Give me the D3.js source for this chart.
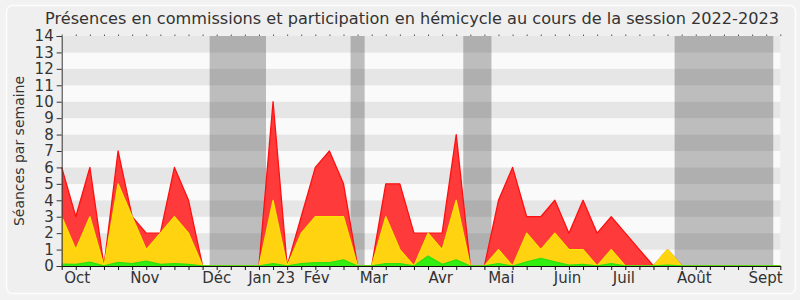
<!DOCTYPE html>
<html>
<head>
<meta charset="utf-8">
<script src="https://cdn.jsdelivr.net/npm/d3@7"></script>
<style>
    body { margin: 0; background: #f2f2f2; }
    svg { display: block; font-family: 'DejaVu Sans', Verdana, sans-serif; }
</style>
</head>
<body>
<div id="chart"></div>
<script>
// Semaines de la session (index 0 = dernière semaine de septembre 2022)
const WEEKS = d3.range(52);

// Valeurs cumulées (séances par semaine)
const HEMICYCLE = [6, 3, 6, 0, 7, 3, 2, 2, 6, 4, 0, 0, 0, 0, 0, 10, 0, 3, 6, 7, 5, 0, 0, 5, 5, 2,
    2, 2, 8, 0, 0, 4, 6, 3, 3, 4, 2, 4, 2, 3, 2, 1, 0, 1, 0, 0, 0, 0, 0, 0, 0, 0];
const COMMISSIONS = [3, 1, 3, 0, 5, 3, 1, 2, 3, 2, 0, 0, 0, 0, 0, 4, 0, 2, 3, 3, 3, 0, 0, 3, 1, 0,
    2, 1, 4, 0, 0, 1, 0, 2, 1, 2, 1, 1, 0, 1, 0, 0, 0, 1, 0, 0, 0, 0, 0, 0, 0, 0];
const INTERVENTIONS = [0.12, 0.1, 0.24, 0, 0.22, 0.15, 0.3, 0.1, 0.15, 0.1, 0, 0, 0, 0, 0, 0.15, 0,
    0.15, 0.2, 0.2, 0.37, 0, 0, 0.15, 0.15, 0, 0.6, 0.1, 0.37, 0, 0, 0.15, 0, 0.25, 0.47, 0.25, 0.05,
    0.1, 0, 0.15, 0, 0, 0, 0.05, 0, 0, 0, 0, 0, 0, 0, 0];

// Libellés des mois et semaine où ils sont centrés
const MONTH_LABELS = ['Oct', 'Nov', 'Déc', 'Jan 23', 'Fév', 'Mar', 'Avr', 'Mai', 'Juin', 'Juil', 'Août', 'Sept'];
const MONTH_WEEKS = [1.1, 5.9, 11, 14.9, 18.1, 22.15, 26.9, 31.2, 35.9, 39.9, 44.9, 49.95];

// Vacances parlementaires (en semaines)
const VACATION_STARTS = [10.5, 20.5, 28.5, 43.5];
const VACATION_ENDS = [14.5, 21.5, 30.5, 50.5];

const Y_TICKS = d3.range(0, 15);

const width = 800;
const height = 300;
const margin = { top: 36, right: 20, bottom: 34, left: 62 };

const svg = d3.select('#chart').append('svg')
    .attr('width', width)
    .attr('height', height);

svg.append('rect')
    .attr('x', 6.5).attr('y', 5.5)
    .attr('width', 789).attr('height', 288)
    .attr('rx', 6)
    .attr('fill', '#efefef')
    .attr('stroke', '#fdfdfd')
    .attr('stroke-width', 1.5);

const xScale = d3.scaleLinear()
    .domain([0, 51])
    .range([margin.left - 0.3, width - margin.right + 0.3]);

const yScale = d3.scaleLinear()
    .domain([0, 14])
    .range([height - margin.bottom, margin.top]);

const plot = svg.append('g');

// bandes horizontales
plot.selectAll('.stripe')
    .data(d3.range(0, 14))
    .enter()
    .append('rect')
    .attr('x', xScale(0))
    .attr('width', xScale(51) - xScale(0))
    .attr('y', (d) => yScale(d + 1))
    .attr('height', (d) => yScale(d) - yScale(d + 1))
    .attr('fill', (d) => d % 2 === 1 ? '#e6e6e6' : '#fafafa');

plot.selectAll('.vacation')
    .data(VACATION_STARTS)
    .enter()
    .append('rect')
    .attr('x', (d) => xScale(d))
    .attr('width', (d, i) => xScale(VACATION_ENDS[i]) - xScale(d))
    .attr('y', yScale(14))
    .attr('height', yScale(0) - yScale(14))
    .attr('fill', 'rgb(50,50,50)')
    .attr('opacity', 0.3);

function drawArea(values, fill, stroke) {
    const area = d3.area()
        .x((d, i) => xScale(WEEKS[i]))
        .y0(yScale(0))
        .y1((d) => yScale(d));
    const line = d3.line()
        .x((d, i) => xScale(WEEKS[i]))
        .y((d) => yScale(d));
    plot.append('path')
        .datum(values)
        .attr('fill', fill)
        .attr('d', area);
    plot.append('path')
        .datum(values)
        .attr('fill', 'none')
        .attr('stroke', stroke)
        .attr('stroke-width', 1.3)
        .attr('stroke-linejoin', 'round')
        .attr('d', line);
}

drawArea(HEMICYCLE, '#ff3a3a', '#ff1010');
drawArea(COMMISSIONS, '#ffd30f', '#f8e400');
drawArea(INTERVENTIONS, '#33ee11', '#2ee010');

// axes
const axisColor = '#333';

svg.append('g')
    .attr('transform', `translate(${xScale(0)},0)`)
    .call(d3.axisLeft(yScale).tickValues(Y_TICKS).tickSize(5).tickPadding(3))
    .call((group) => group.selectAll('text')
        .attr('fill', '#333')
        .style('font-size', '15px')
        .style('font-family', "'DejaVu Sans', Verdana, sans-serif"))
    .call((group) => group.selectAll('line,path').attr('stroke', axisColor));

svg.append('g')
    .attr('transform', `translate(0,${yScale(0)})`)
    .call(d3.axisBottom(xScale).tickValues(WEEKS).tickSize(4).tickSizeOuter(0).tickFormat(''))
    .call((group) => group.selectAll('line,path').attr('stroke', '#111'));

svg.append('g')
    .attr('transform', `translate(0,${yScale(14)})`)
    .call(d3.axisTop(xScale).tickValues(WEEKS).tickSize(1.5).tickFormat(''))
    .call((group) => group.select('.domain').remove())
    .call((group) => group.selectAll('line').attr('stroke', '#555'));

svg.selectAll('.month-label')
    .data(MONTH_LABELS)
    .enter()
    .append('text')
    .attr('x', (d, i) => xScale(MONTH_WEEKS[i]))
    .attr('y', 283)
    .attr('text-anchor', 'middle')
    .attr('fill', '#333')
    .style('font-size', '15px')
    .text((d) => d);

svg.append('text')
    .attr('transform', `translate(19,${(yScale(0) + yScale(14)) / 2}) rotate(-90)`)
    .attr('text-anchor', 'middle')
    .attr('dy', '0.35em')
    .attr('fill', '#333')
    .style('font-size', '14px')
    .text('Séances par semaine');

const title = svg.append('text')
    .attr('x', 412)
    .attr('y', 24)
    .attr('text-anchor', 'middle')
    .attr('fill', '#333')
    .style('font-size', '16px')
    .text('Présences en commissions et participation en hémicycle au cours de la session 2022-2023');

const titleWidth = title.node().getComputedTextLength();
title.style('font-size', `${16 * 735 / titleWidth}px`);
</script>
</body>
</html>
